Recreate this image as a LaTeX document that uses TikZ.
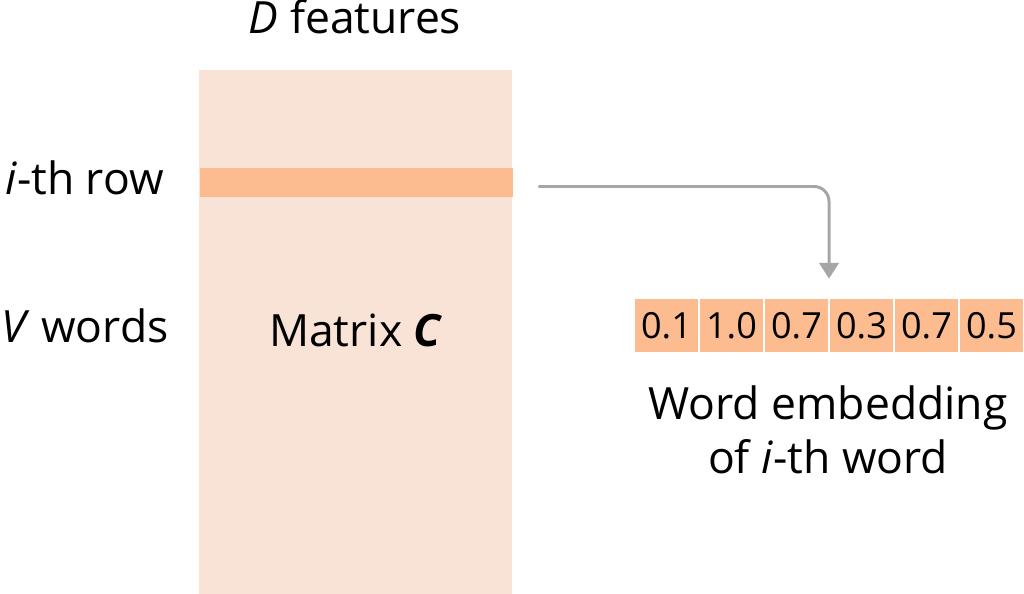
\documentclass[tikz,border=0pt]{standalone}
\usepackage{fontspec}
\setmainfont{Open Sans}
\usetikzlibrary{positioning, calc, arrows.meta}
\definecolor{matfill}{HTML}{F9E3D6}
\definecolor{rowfill}{HTML}{FDBB90}
\definecolor{linkgray}{HTML}{A6A6A6}

\begin{document}
\begin{tikzpicture}[x=0.02cm, y=-0.02cm]
        \tikzstyle{label}=[inner sep=0, font=\fontsize{25.3}{30}\selectfont];
        \tikzstyle{cell}=[fill=rowfill, minimum width=1.26cm, minimum height=1.06cm, inner sep=0, font=\fontsize{20.5}{24}\selectfont];
        \tikzstyle{link}=[draw=linkgray, line width=1.7pt, rounded corners=0.3cm, -{Triangle[length=9pt, width=11pt]}];

        \useasboundingbox (0, 0) rectangle (1024, 594);

        \node[fill=matfill, minimum width=6.26cm, minimum height=10.48cm, inner sep=0] (matC) at (355.5, 332) {};
        \node[fill=rowfill, minimum width=6.26cm, minimum height=0.58cm, inner sep=0] (irow) at (356.5, 182.5) {};

        \node[label, anchor=base] (dfeat) at (355, 34) {\textit{D} features};
        \node[label, anchor=base east] (rowlbl) at (164, 195) {\textit{i}-th row};
        \node[label, anchor=base west] (vwords) at (1, 343) {\textit{V} words};
        \node[label, anchor=base] (matlbl) at (356, 347) {Matrix \textbf{\textit{C}}};

        \foreach \v [count=\k] in {0.1, 1.0, 0.7, 0.3, 0.7, 0.5}
            \node[cell] (e\k) at ({601.5 + 65*\k}, 325.5) {\v};

        \node[label, anchor=base] (emb1) at (828, 419) {Word embedding};
        \node[label, anchor=base] (emb2) at (828, 473) {of \textit{i}-th word};

        \coordinate (vectop) at ($(e3.north east)!0.5!(e4.north west)$);
        \draw[link] ($(irow.east)+(25, 4)$) -| ([yshift=0.4cm]vectop);

    \end{tikzpicture}
\end{document}
